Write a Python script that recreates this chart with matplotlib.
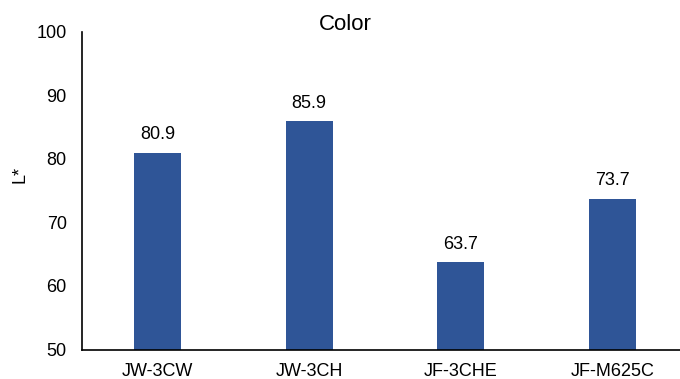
import matplotlib.pyplot as plt

plt.rcParams['font.family'] = ['Liberation Sans', 'DejaVu Sans']

samples = ['JW-3CW', 'JW-3CH', 'JF-3CHE', 'JF-M625C']
l_star = [80.9, 85.9, 63.7, 73.7]

fig = plt.figure(figsize=(6.8, 3.79), dpi=100)
ax = fig.add_axes([82 / 680, 29.5 / 379, 606 / 680, 317.8 / 379])

x = range(len(samples))
bars = ax.bar(x, l_star, width=0.31, color='#2F5597', zorder=2)
for b, v in zip(bars, l_star):
    ax.annotate(f'{v:.1f}', (b.get_x() + b.get_width() / 2, v),
                xytext=(0, 7), textcoords='offset points',
                ha='center', va='bottom', fontsize=13)

ax.set_xlim(-0.5, len(samples) - 0.5)
ax.set_ylim(50, 100)
ax.set_yticks(range(50, 101, 10))
ax.set_xticks(list(x))
ax.set_xticklabels(samples)
ax.tick_params(axis='both', length=0, labelsize=13)
ax.tick_params(axis='y', pad=11)
ax.tick_params(axis='x', pad=10)
for s in ['top', 'right']:
    ax.spines[s].set_visible(False)
for s in ['left', 'bottom']:
    ax.spines[s].set_linewidth(1.2)
    ax.spines[s].set_color('black')

ax.set_ylabel('L*', fontsize=13)
ax.yaxis.set_label_coords(-0.089, 0.55)
fig.text(345 / 680, 1 - 24 / 379, 'Color', ha='center', va='center', fontsize=16)

fig.savefig('out.png', dpi=100)
